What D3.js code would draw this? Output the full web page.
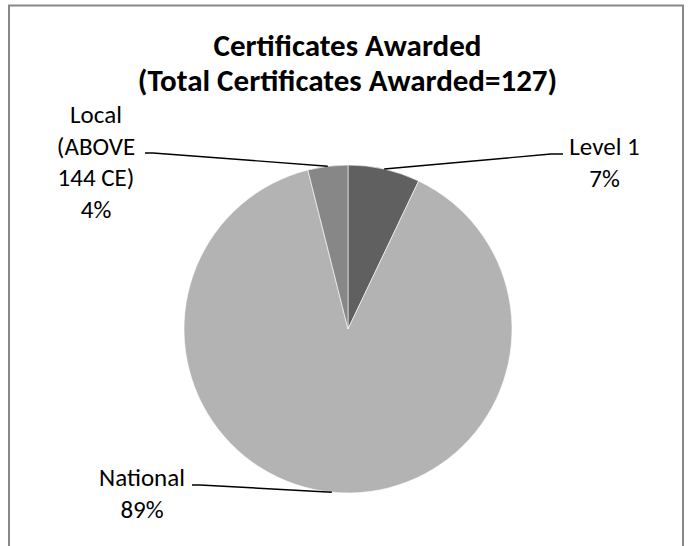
<!DOCTYPE html>
<html>
<head>
<meta charset="utf-8">
<script src="https://cdn.jsdelivr.net/npm/d3@7"></script>
<style>
  html, body { margin: 0; padding: 0; background: #fff; }
  svg { display: block; }
  text { font-family: Carlito, Calibri, Lato, "Open Sans", sans-serif; fill: #000; }
</style>
</head>
<body>
<svg id="chart" width="691" height="546"></svg>
<script>
// Certificates awarded, by type (counts sum to 127)
const categories = ["Level 1", "National", "Local (ABOVE 144 CE)"];
const counts = [9, 113, 5];
const colors = ["#606060", "#b3b3b3", "#878787"];
const titleLines = ["Certificates Awarded", "(Total Certificates Awarded=127)"];

// Label blocks: text lines, anchor point of the block and leader elbow
const labelLines = [
  ["Level 1"],
  ["National"],
  ["Local", "(ABOVE", "144 CE)"]
];
const labelLayout = [
  { x: 604.5, y: 155, lead: [[563, 154], [551, 154]] },
  { x: 142, y: 486, lead: [[192, 485], [200, 485]] },
  { x: 96, y: 123, lead: [[145, 153], [153, 153]] }
];

const W = 691, H = 546;
const cx = 348, cy = 329, R = 164;
const svg = d3.select("#chart");

// chart frame
svg.append("rect")
  .attr("x", 9).attr("y", 5.5)
  .attr("width", 674).attr("height", 560)
  .attr("fill", "#fff")
  .attr("stroke", "#888")
  .attr("stroke-width", 2);

// title
const title = svg.append("text")
  .attr("text-anchor", "middle")
  .attr("font-weight", "bold")
  .attr("font-size", 31);
titleLines.forEach((t, i) => {
  title.append("tspan").attr("x", 347.5).attr("y", 56 + i * 35).text(t);
});

const total = d3.sum(counts);
const data = categories.map((c, i) => ({ name: c, value: counts[i], color: colors[i], i }));

const pie = d3.pie().sort(null).value(d => d.value);
const arcs = pie(data);
const arc = d3.arc().innerRadius(0).outerRadius(R);
const edge = d3.arc().innerRadius(R).outerRadius(R);

const g = svg.append("g").attr("transform", `translate(${cx},${cy})`);
g.selectAll("path.slice")
  .data(arcs)
  .join("path")
  .attr("class", "slice")
  .attr("d", arc)
  .attr("fill", d => d.data.color)
  .attr("stroke", "#fff")
  .attr("stroke-width", 0.6);

// leader lines from slice mid-edge to label elbow
const pct = v => Math.round(v / total * 100) + "%";
arcs.forEach(a => {
  const i = a.data.i;
  const [ex, ey] = edge.centroid(a);
  const lay = labelLayout[i];
  const pts = [lay.lead[0], lay.lead[1], [cx + ex, cy + ey]];
  svg.append("path")
    .attr("d", d3.line()(pts))
    .attr("fill", "none")
    .attr("stroke", "#000")
    .attr("stroke-width", 1.4);

  const lines = labelLines[i].concat([pct(a.data.value)]);
  const t = svg.append("text")
    .attr("text-anchor", "middle")
    .attr("font-size", 25);
  lines.forEach((s, k) => {
    t.append("tspan").attr("x", lay.x).attr("y", lay.y + k * 31.5).text(s);
  });
});
</script>
</body>
</html>
